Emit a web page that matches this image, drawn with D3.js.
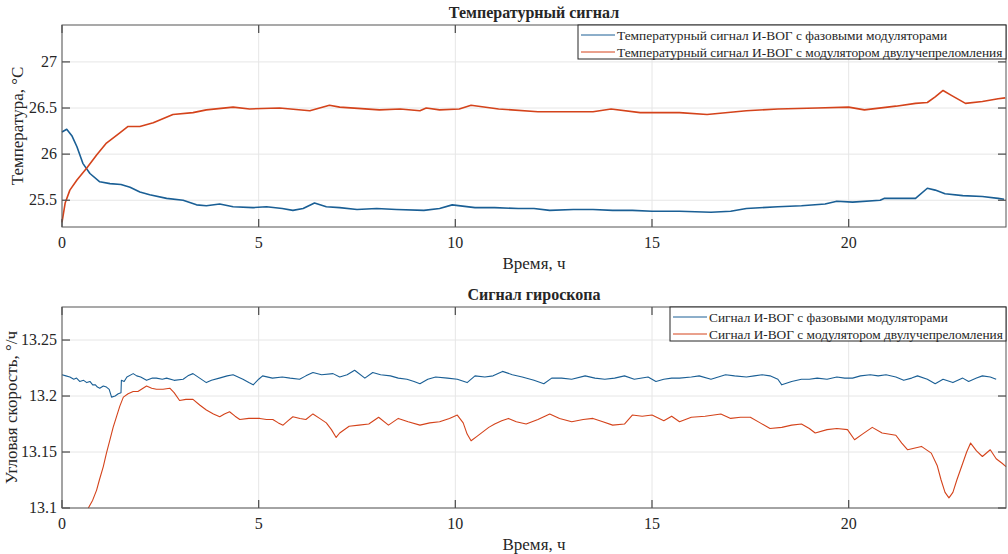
<!DOCTYPE html>
<html>
<head>
<meta charset="utf-8">
<script src="https://cdn.jsdelivr.net/npm/d3@7"></script>
<style>
  body { margin: 0; background: #fff; }
</style>
</head>
<body>
<div id="chart"></div>
<script>
// [time, h ; value]
var tempPhase = [[0,26.24],[0.12,26.27],[0.25,26.2],[0.38,26.08],[0.53,25.9],[0.71,25.79],[0.96,25.7],[1.22,25.68],[1.5,25.67],[1.73,25.64],[1.98,25.59],[2.23,25.56],[2.66,25.52],[3.08,25.5],[3.42,25.45],[3.67,25.44],[4.01,25.46],[4.35,25.43],[4.86,25.42],[5.2,25.43],[5.6,25.41],[5.87,25.39],[6.13,25.41],[6.42,25.47],[6.72,25.43],[7.06,25.42],[7.5,25.4],[8.0,25.41],[8.5,25.4],[9.2,25.39],[9.6,25.41],[9.92,25.45],[10.5,25.42],[11.0,25.42],[11.6,25.41],[12.0,25.41],[12.4,25.39],[13.0,25.4],[13.5,25.4],[14.0,25.39],[14.5,25.39],[15.0,25.38],[15.7,25.38],[16.5,25.37],[17.0,25.38],[17.4,25.41],[18.2,25.43],[18.8,25.44],[19.4,25.46],[19.7,25.49],[20.1,25.48],[20.8,25.5],[20.9,25.52],[21.7,25.52],[22.0,25.63],[22.2,25.61],[22.45,25.57],[22.9,25.55],[23.4,25.54],[23.8,25.52],[23.95,25.51]];
var tempBiref = [[0,25.26],[0.08,25.47],[0.2,25.61],[0.38,25.72],[0.63,25.85],[0.88,25.99],[1.13,26.12],[1.47,26.23],[1.68,26.3],[1.98,26.3],[2.32,26.34],[2.82,26.43],[3.33,26.45],[3.67,26.48],[4.35,26.51],[4.77,26.49],[5.53,26.5],[6.3,26.47],[6.8,26.53],[7.06,26.51],[8.07,26.48],[8.6,26.49],[9.1,26.47],[9.26,26.5],[9.6,26.48],[10.1,26.49],[10.4,26.53],[11.1,26.49],[12.1,26.46],[13.1,26.46],[13.5,26.46],[13.96,26.49],[14.7,26.45],[15.5,26.45],[15.7,26.45],[16.4,26.43],[17.4,26.47],[18.2,26.49],[19.2,26.5],[20.0,26.51],[20.4,26.48],[21.2,26.52],[21.7,26.55],[22.0,26.56],[22.2,26.62],[22.4,26.69],[22.6,26.64],[22.97,26.55],[23.4,26.57],[23.8,26.6],[23.98,26.61]];

var gyroPhase = [[0,13.219],[0.1,13.218],[0.2,13.217],[0.3,13.215],[0.37,13.216],[0.45,13.213],[0.55,13.214],[0.63,13.212],[0.71,13.213],[0.78,13.21],[0.85,13.21],[0.9,13.208],[0.96,13.207],[1.05,13.209],[1.13,13.208],[1.2,13.206],[1.26,13.199],[1.35,13.2],[1.43,13.202],[1.5,13.203],[1.51,13.214],[1.58,13.213],[1.65,13.217],[1.81,13.22],[1.9,13.218],[2.0,13.217],[2.15,13.214],[2.3,13.216],[2.4,13.216],[2.55,13.215],[2.66,13.216],[2.85,13.214],[3.08,13.215],[3.2,13.218],[3.33,13.22],[3.5,13.216],[3.67,13.212],[3.8,13.214],[4.0,13.216],[4.2,13.218],[4.35,13.219],[4.6,13.215],[4.75,13.212],[4.86,13.21],[5.0,13.215],[5.1,13.218],[5.35,13.216],[5.6,13.217],[5.8,13.216],[6.04,13.215],[6.2,13.218],[6.38,13.221],[6.6,13.219],[6.89,13.22],[7.06,13.217],[7.25,13.219],[7.44,13.223],[7.7,13.216],[7.9,13.221],[8.1,13.219],[8.35,13.218],[8.55,13.216],[8.77,13.215],[8.95,13.213],[9.1,13.211],[9.3,13.215],[9.5,13.217],[9.8,13.216],[10.05,13.215],[10.3,13.212],[10.5,13.218],[10.75,13.217],[10.96,13.218],[11.2,13.222],[11.45,13.219],[11.7,13.217],[12.0,13.214],[12.25,13.211],[12.45,13.216],[12.7,13.216],[12.96,13.215],[13.3,13.218],[13.55,13.216],[13.8,13.215],[14.05,13.216],[14.3,13.218],[14.55,13.215],[14.9,13.217],[15.1,13.213],[15.3,13.215],[15.5,13.216],[15.7,13.216],[16.0,13.217],[16.2,13.218],[16.5,13.215],[16.87,13.219],[17.1,13.218],[17.4,13.217],[17.6,13.218],[17.8,13.219],[18.0,13.218],[18.2,13.215],[18.3,13.21],[18.55,13.213],[18.8,13.215],[19.0,13.215],[19.2,13.216],[19.45,13.215],[19.7,13.217],[19.9,13.216],[20.1,13.216],[20.3,13.218],[20.55,13.219],[20.75,13.218],[20.95,13.219],[21.2,13.217],[21.4,13.214],[21.6,13.216],[21.75,13.218],[22.0,13.215],[22.2,13.211],[22.4,13.215],[22.65,13.212],[22.9,13.216],[23.05,13.213],[23.25,13.216],[23.4,13.218],[23.6,13.217],[23.75,13.215]];
var gyroBiref = [[0.67,13.1],[0.78,13.107],[0.88,13.116],[0.95,13.125],[1.05,13.137],[1.13,13.149],[1.22,13.161],[1.3,13.172],[1.39,13.182],[1.47,13.191],[1.56,13.199],[1.68,13.202],[1.81,13.204],[1.93,13.204],[2.06,13.207],[2.15,13.209],[2.28,13.207],[2.4,13.206],[2.57,13.206],[2.74,13.207],[2.85,13.203],[2.99,13.196],[3.15,13.197],[3.33,13.197],[3.5,13.192],[3.67,13.1875],[3.85,13.184],[4.01,13.1815],[4.13,13.184],[4.26,13.186],[4.4,13.182],[4.52,13.179],[4.75,13.18],[5.03,13.18],[5.2,13.179],[5.36,13.179],[5.5,13.176],[5.62,13.174],[5.75,13.178],[5.87,13.1815],[6.05,13.18],[6.2,13.179],[6.38,13.184],[6.55,13.18],[6.72,13.176],[6.85,13.17],[6.97,13.163],[7.06,13.167],[7.3,13.173],[7.55,13.174],[7.8,13.175],[8.05,13.181],[8.3,13.174],[8.55,13.18],[8.8,13.177],[9.1,13.174],[9.35,13.176],[9.6,13.177],[9.85,13.18],[10.05,13.183],[10.2,13.176],[10.3,13.166],[10.4,13.16],[10.55,13.164],[10.7,13.168],[10.85,13.172],[11.0,13.175],[11.18,13.178],[11.35,13.18],[11.55,13.177],[11.8,13.175],[12.1,13.179],[12.4,13.184],[12.65,13.18],[12.96,13.177],[13.25,13.179],[13.5,13.18],[13.75,13.177],[14.0,13.174],[14.3,13.175],[14.5,13.183],[14.75,13.182],[15.0,13.183],[15.3,13.178],[15.5,13.182],[15.7,13.177],[16.0,13.181],[16.35,13.182],[16.75,13.184],[17.0,13.18],[17.25,13.181],[17.5,13.181],[17.75,13.176],[18.0,13.171],[18.3,13.172],[18.55,13.174],[18.8,13.175],[19.0,13.171],[19.15,13.167],[19.45,13.17],[19.7,13.171],[19.97,13.17],[20.15,13.161],[20.35,13.166],[20.6,13.172],[20.85,13.167],[21.2,13.165],[21.35,13.158],[21.5,13.152],[21.85,13.155],[22.1,13.149],[22.25,13.138],[22.35,13.125],[22.45,13.114],[22.55,13.109],[22.65,13.114],[22.75,13.125],[22.9,13.14],[23.0,13.15],[23.1,13.158],[23.25,13.151],[23.4,13.146],[23.6,13.152],[23.75,13.144],[23.9,13.14],[24.0,13.137]];

var xTicks = [0, 5, 10, 15, 20];
var tempTicks = [25.5, 26, 26.5, 27];
var gyroTicks = [13.1, 13.15, 13.2, 13.25];

var blue = "#1a5f95", red = "#d4431b";
var serif = "Liberation Serif";

var W = 1008, H = 554;
var svg = d3.select("#chart").append("svg").attr("width", W).attr("height", H)
  .style("font-family", serif);

function txt(sel) {
  return sel.append("text").style("font-family", serif).attr("fill", "#262626");
}

function panel(o) {
  var x = d3.scaleLinear().domain([0, 24]).range([62, 1006]);
  var y = d3.scaleLinear().domain(o.yDomain).range([o.bottom, o.top]);
  var g = svg.append("g");

  // grid
  g.selectAll(".gx").data(xTicks).enter().append("line")
    .attr("x1", d => x(d)).attr("x2", d => x(d))
    .attr("y1", o.top).attr("y2", o.bottom)
    .attr("stroke", "#e6e6e6").attr("stroke-width", 1);
  g.selectAll(".gy").data(o.yTicks).enter().append("line")
    .attr("x1", 62).attr("x2", 1006)
    .attr("y1", d => y(d)).attr("y2", d => y(d))
    .attr("stroke", "#e6e6e6").attr("stroke-width", 1);

  var line = d3.line().x(d => x(d[0])).y(d => y(d[1]));
  g.append("path").datum(o.s1).attr("d", line)
    .attr("fill", "none").attr("stroke", blue).attr("stroke-width", o.lw).attr("stroke-linejoin", "round");
  g.append("path").datum(o.s2).attr("d", line)
    .attr("fill", "none").attr("stroke", red).attr("stroke-width", o.lw).attr("stroke-linejoin", "round");

  // box + inside ticks
  g.append("rect").attr("x", 62).attr("y", o.top)
    .attr("width", 1006 - 62).attr("height", o.bottom - o.top)
    .attr("fill", "none").attr("stroke", "#555").attr("stroke-width", 1);
  xTicks.forEach(function (t) {
    g.append("line").attr("x1", x(t)).attr("x2", x(t)).attr("y1", o.bottom).attr("y2", o.bottom - 8)
      .attr("stroke", "#555").attr("stroke-width", 1.3);
    g.append("line").attr("x1", x(t)).attr("x2", x(t)).attr("y1", o.top).attr("y2", o.top + 8)
      .attr("stroke", "#555").attr("stroke-width", 1.3);
  });
  o.yTicks.forEach(function (t) {
    g.append("line").attr("x1", 62).attr("x2", 70).attr("y1", y(t)).attr("y2", y(t)).attr("stroke", "#555").attr("stroke-width", 1.3);
    g.append("line").attr("x1", 1006).attr("x2", 998).attr("y1", y(t)).attr("y2", y(t)).attr("stroke", "#555").attr("stroke-width", 1.3);
  });

  // tick labels
  xTicks.forEach(function (t) {
    txt(g).attr("x", x(t)).attr("y", o.bottom + 21)
      .attr("text-anchor", "middle").style("font-size", "16px").text(t);
  });
  o.yTicks.forEach(function (t) {
    txt(g).attr("x", 57).attr("y", y(t) + 5)
      .attr("text-anchor", "end").style("font-size", "16px").text(t);
  });

  // labels and title
  txt(g).attr("x", 534).attr("y", o.bottom + 42)
    .attr("text-anchor", "middle").style("font-size", "17px").text("Время, ч");
  txt(g).attr("transform", "translate(" + o.ylx + "," + ((o.top + o.bottom) / 2) + ") rotate(-90)")
    .attr("text-anchor", "middle").style("font-size", "17px").text(o.ylabel);
  txt(g).attr("x", 534).attr("y", o.top - 7)
    .attr("text-anchor", "middle").style("font-size", "16px").style("font-weight", "bold").text(o.title);

  // legend
  var lg = g.append("g");
  lg.append("rect").attr("x", o.lgx).attr("y", o.top).attr("width", 1006 - o.lgx).attr("height", 34)
    .attr("fill", "#fff").attr("stroke", "#262626").attr("stroke-width", 1);
  var items = [[blue, o.names[0]], [red, o.names[1]]].map(function (it, i) {
    var yy = o.top + 10 + i * 17;
    lg.append("line").attr("x1", o.lgx + 3).attr("x2", o.lgx + 37).attr("y1", yy).attr("y2", yy)
      .attr("stroke", it[0]).attr("stroke-width", 1);
    return txt(lg).attr("x", o.lgx + 39).attr("y", yy + 5).style("font-size", "14px").text(it[1]);
  });
  // fit the longer legend entry to the box width
  var w = items[1].node().getComputedTextLength();
  var fs = 14 * (1003 - (o.lgx + 39)) / w;
  items.forEach(function (t) { t.style("font-size", fs + "px"); });
}

panel({
  top: 25, bottom: 227, yDomain: [25.21, 27.4], yTicks: tempTicks,
  s1: tempPhase, s2: tempBiref, lw: 1.6,
  title: "Температурный сигнал", ylabel: "Температура, °C", ylx: 23, lgx: 578,
  names: ["Температурный сигнал И-ВОГ с фазовыми модуляторами",
          "Температурный сигнал И-ВОГ с модулятором двулучепреломления"]
});
panel({
  top: 307, bottom: 508, yDomain: [13.1, 13.2795], yTicks: gyroTicks,
  s1: gyroPhase, s2: gyroBiref, lw: 1.1,
  title: "Сигнал гироскопа", ylabel: "Угловая скорость, °/ч", ylx: 17, lgx: 670,
  names: ["Сигнал И-ВОГ с фазовыми модуляторами",
          "Сигнал И-ВОГ с модулятором двулучепреломления"]
});
</script>
</body>
</html>
